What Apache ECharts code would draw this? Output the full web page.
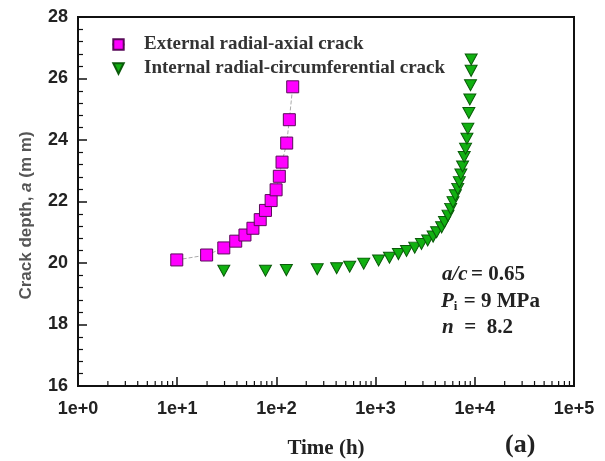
<!DOCTYPE html>
<html>
<head>
<meta charset="utf-8">
<script src="https://cdn.jsdelivr.net/npm/echarts@6/dist/echarts.min.js"></script>
<style>
  html, body { margin: 0; padding: 0; background: #fff; }
  #chart { width: 605px; height: 461px; }
</style>
</head>
<body>
<div id="chart"></div>
<script>
// time (h) vs crack depth a (mm)
const extTime = [9.9, 19.8, 29.5, 38.9, 48.2, 58, 68.7, 77.6, 88.5, 99.3, 107, 114, 127, 135, 146];
const extDepth = [20.10, 20.26, 20.49, 20.71, 20.91, 21.13, 21.41, 21.71, 22.03, 22.38, 22.82, 23.28, 23.90, 24.66, 25.73];

const intTime = [29.5, 77.6, 126, 258, 405, 548, 759, 1072, 1380, 1698, 2050, 2480, 2900, 3350, 3800,
  4120, 4630, 4950, 5370, 5710, 6030, 6370, 6730, 6980, 7240, 7530, 7820, 8070, 8330, 8510,
  8710, 8910, 9050, 9180, 9200];
const intDepth = [19.75, 19.75, 19.77, 19.80, 19.83, 19.88, 19.98, 20.08, 20.17, 20.29, 20.39, 20.50, 20.62, 20.73, 20.86,
  21.00, 21.16, 21.33, 21.54, 21.76, 21.98, 22.20, 22.41, 22.63, 22.88, 23.14, 23.45, 23.72, 24.04, 24.37,
  24.88, 25.32, 25.78, 26.25, 26.62];

const xTickLabels = ['1e+0', '1e+1', '1e+2', '1e+3', '1e+4', '1e+5'];
const logMinor = [];
for (let d = 1; d <= 10000; d *= 10) {
  for (let k = 2; k <= 9; k++) logMinor.push(k * d);
}

const serif = '"Liberation Serif", "Times New Roman", serif';
const sans = '"Liberation Sans", Arial, sans-serif';
const triDown = 'path://M0,0 L10,0 L5,9 Z';

const chart = echarts.init(document.getElementById('chart'));
chart.setOption({
  animation: false,
  grid: {
    left: 78, right: 31, top: 17, bottom: 75, containLabel: false, outerBoundsMode: 'none',
    show: true, borderColor: '#111', borderWidth: 2
  },
  xAxis: {
    type: 'log', min: 1, max: 100000, logBase: 10,
    axisLine: { lineStyle: { color: '#111', width: 2 } },
    axisTick: { inside: true, length: 9, lineStyle: { color: '#111', width: 1.5 } },
    splitLine: { show: false },
    axisLabel: {
      margin: 14, color: '#222', fontFamily: sans, fontWeight: 'bold', fontSize: 18,
      formatter: v => xTickLabels[Math.round(Math.log10(v))]
    },
    name: 'Time (h)', nameLocation: 'middle', nameGap: 52,
    nameTextStyle: { fontFamily: serif, fontWeight: 'bold', fontSize: 21, color: '#222' }
  },
  yAxis: {
    type: 'value', min: 16, max: 28, interval: 2,
    axisLine: { show: true, lineStyle: { color: '#111', width: 2 } },
    axisTick: { inside: true, length: 9, lineStyle: { color: '#111', width: 1.5 } },
    minorTick: { show: true, splitNumber: 5, length: 5, lineStyle: { color: '#111', width: 1.2 } },
    splitLine: { show: false },
    axisLabel: { margin: 10, color: '#222', fontFamily: sans, fontWeight: 'bold', fontSize: 18 },
    name: '{n|Crack depth, }{i|a}{n| (m m)}', nameLocation: 'middle', nameGap: 43,
    nameTextStyle: {
      padding: [0, 28, 0, 0],
      rich: {
        n: { fontFamily: sans, fontWeight: 'bold', fontSize: 17, color: '#555' },
        i: { fontFamily: sans, fontWeight: 'bold', fontStyle: 'italic', fontSize: 17, color: '#555' }
      }
    }
  },
  legend: {
    orient: 'vertical', left: 106, top: 30, itemGap: 5, itemWidth: 13, itemHeight: 13,
    textStyle: { fontFamily: serif, fontWeight: 'bold', fontSize: 19, color: '#333', padding: [0, 0, 0, 14] },
    data: ['External radial-axial crack', 'Internal radial-circumferential crack']
  },
  series: [
    {
      name: 'External radial-axial crack', type: 'line',
      data: extTime.map((t, i) => [t, extDepth[i]]),
      symbol: 'rect', symbolSize: 12,
      itemStyle: { color: '#ff00ff', borderColor: '#5a0a5a', borderWidth: 1 },
      lineStyle: { color: '#aaa', width: 1, type: 'dashed' }, z: 3
    },
    {
      name: 'Internal radial-circumferential crack', type: 'line',
      data: intTime.map((t, i) => [t, intDepth[i]]),
      symbol: triDown, symbolSize: [12, 11],
      itemStyle: { color: '#11b011', borderColor: '#0a5a0a', borderWidth: 1 },
      lineStyle: { opacity: 0 }, z: 3
    },
    {
      // log minor ticks on the time axis
      type: 'custom', silent: true, z: 4,
      data: logMinor.map(v => [v, 16]),
      renderItem: (params, api) => {
        const p = api.coord([api.value(0), api.value(1)]);
        return {
          type: 'line',
          shape: { x1: p[0], y1: p[1], x2: p[0], y2: p[1] - 5 },
          style: { stroke: '#111', lineWidth: 1.2 }
        };
      }
    }
  ],
  graphic: [
    {
      type: 'text', left: 442, top: 264,
      style: {
        text: '{i|a/c} {n|= 0.65}',
        rich: {
          i: { fontFamily: serif, fontWeight: 'bold', fontStyle: 'italic', fontSize: 21, fill: '#222' },
          n: { fontFamily: serif, fontWeight: 'bold', fontSize: 21, fill: '#222' }
        }
      }
    },
    {
      type: 'text', left: 441, top: 291,
      style: {
        text: '{i|P}{s|i} {n|= 9 MPa}',
        rich: {
          i: { fontFamily: serif, fontWeight: 'bold', fontStyle: 'italic', fontSize: 21, fill: '#222' },
          s: { fontFamily: serif, fontWeight: 'bold', fontSize: 13, fill: '#222', padding: [10, 3, 0, 0] },
          n: { fontFamily: serif, fontWeight: 'bold', fontSize: 21, fill: '#222' }
        }
      }
    },
    {
      type: 'text', left: 442, top: 317,
      style: {
        text: '{i|n}{n|  =  8.2}',
        rich: {
          i: { fontFamily: serif, fontWeight: 'bold', fontStyle: 'italic', fontSize: 21, fill: '#222' },
          n: { fontFamily: serif, fontWeight: 'bold', fontSize: 21, fill: '#222' }
        }
      }
    },
    {
      type: 'text', left: 505, top: 432,
      style: { text: '(a)', fontFamily: serif, fontWeight: 'bold', fontSize: 26, fill: '#222' }
    }
  ]
});
</script>
</body>
</html>
